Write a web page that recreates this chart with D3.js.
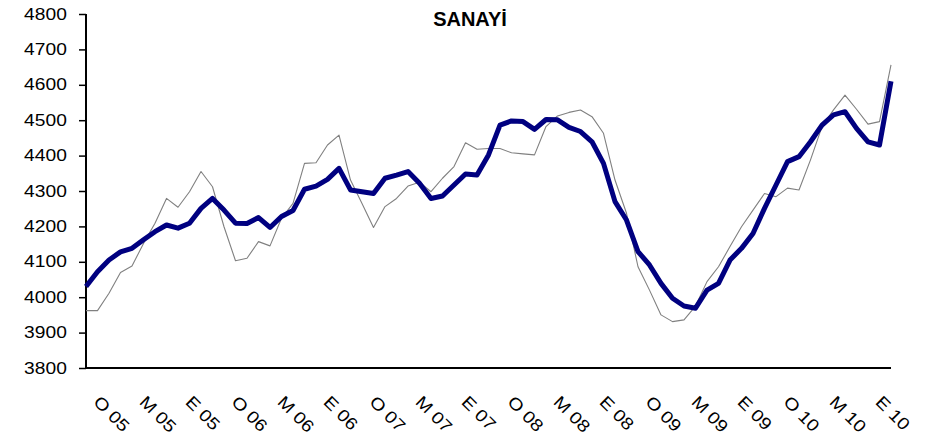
<!DOCTYPE html>
<html>
<head>
<meta charset="utf-8">
<script src="https://cdn.jsdelivr.net/npm/d3@7"></script>
<style>
  html, body { margin: 0; padding: 0; background: #fff; }
  svg { display: block; }
</style>
</head>
<body>
<div id="chart"></div>
<script>
// ---------- data ----------
const title = "SANAYİ";
const monthAbbr = ["O", "Ş", "M", "N", "M", "H", "T", "A", "E", "E", "K", "A"];
const years = ["05", "06", "07", "08", "09", "10"];
// monthly categories, Ocak 2005 – Kasım 2010
const categories = [];
years.forEach(yy => monthAbbr.forEach(m => categories.push(m + " " + yy)));
categories.length = 71;

// thick series
const seriesTrend = [
  4030, 4072, 4105, 4128, 4138, 4162, 4185, 4204, 4195, 4209, 4251, 4279,
  4246, 4209, 4208, 4225, 4197, 4228, 4245, 4305, 4314, 4333, 4364, 4303,
  4298, 4293, 4336, 4345, 4355, 4322, 4279, 4286, 4317, 4348, 4345, 4402,
  4486, 4498, 4496, 4474, 4502, 4501, 4480, 4468, 4439, 4378, 4270, 4218,
  4129, 4091, 4039, 3997, 3975, 3969, 4020, 4039, 4105, 4138, 4180, 4251,
  4317, 4383, 4397, 4439, 4486, 4515, 4524, 4477, 4439, 4430, 4610
];
// thin series
const seriesSA = [
  3962, 3962, 4011, 4070, 4088, 4152, 4209, 4279, 4254, 4298, 4355, 4312,
  4199, 4103, 4110, 4157, 4145, 4223, 4265, 4378, 4380, 4430, 4458, 4331,
  4265, 4197, 4256, 4279, 4314, 4325, 4298, 4336, 4369, 4436, 4418, 4420,
  4420, 4408, 4405, 4402, 4482, 4512, 4522, 4529, 4510, 4463, 4331, 4237,
  4086, 4020, 3950, 3931, 3936, 3975, 4044, 4086, 4143, 4199, 4246, 4293,
  4284, 4308, 4303, 4388, 4482, 4529, 4571, 4531, 4489, 4496, 4656
];
const yTicks = [3800, 3900, 4000, 4100, 4200, 4300, 4400, 4500, 4600, 4700, 4800];
const xLabelEvery = 4;

// ---------- layout ----------
const W = 937, H = 443;
const mLeft = 86, mRight = 891, mTop = 14, mBottom = 368;
const fontFam = "'Liberation Sans', Arial, sans-serif";

const svg = d3.select("#chart").append("svg")
  .attr("width", W).attr("height", H);

const x = d3.scaleLinear().domain([0, categories.length - 1]).range([mLeft, mRight]);
const y = d3.scaleLinear().domain([3800, 4800]).range([mBottom, mTop]);

// title
svg.append("text")
  .attr("x", 470).attr("y", 26)
  .attr("text-anchor", "middle")
  .attr("font-family", fontFam)
  .attr("font-weight", "bold")
  .attr("font-size", 20)
  .attr("fill", "#000")
  .text(title);

// y axis
const yAxis = d3.axisLeft(y).tickValues(yTicks).tickSize(7).tickPadding(9)
  .tickFormat(d3.format("d"));
const gy = svg.append("g").attr("transform", `translate(${mLeft},0)`).call(yAxis);
gy.select(".domain").remove();
gy.selectAll(".tick line").attr("stroke", "#000").attr("stroke-width", 1.5);
gy.selectAll(".tick text")
  .attr("font-family", fontFam)
  .attr("font-size", 16)
  .attr("fill", "#000")
  .attr("transform", "scale(1.2,1)");

// x axis (labels only, every 4th month)
const xAxis = d3.axisBottom(x)
  .tickValues(d3.range(0, categories.length, xLabelEvery))
  .tickSize(0)
  .tickFormat(i => categories[i]);
const gx = svg.append("g").attr("transform", `translate(0,${mBottom})`).call(xAxis);
gx.select(".domain").remove();
gx.selectAll(".tick text")
  .attr("font-family", fontFam)
  .attr("font-size", 17)
  .attr("fill", "#000")
  .attr("text-anchor", "start")
  .attr("x", 0).attr("y", 0).attr("dy", 0)
  .attr("transform", "translate(6,35) rotate(45) scale(1.15,1)");

// axis lines
svg.append("line")
  .attr("x1", mLeft).attr("x2", mLeft).attr("y1", mTop).attr("y2", mBottom + 1)
  .attr("stroke", "#000").attr("stroke-width", 2);
svg.append("line")
  .attr("x1", mLeft - 1).attr("x2", mRight).attr("y1", mBottom).attr("y2", mBottom)
  .attr("stroke", "#000").attr("stroke-width", 2);

// lines
const line = d3.line().x((d, i) => x(i)).y(d => y(d));
svg.append("path")
  .datum(seriesSA)
  .attr("d", line)
  .attr("fill", "none")
  .attr("stroke", "#808080")
  .attr("stroke-width", 1.1)
  .attr("stroke-linejoin", "round");
svg.append("path")
  .datum(seriesTrend)
  .attr("d", line)
  .attr("fill", "none")
  .attr("stroke", "#000080")
  .attr("stroke-width", 5)
  .attr("stroke-linejoin", "round")
  .attr("stroke-linecap", "butt");
</script>
</body>
</html>
